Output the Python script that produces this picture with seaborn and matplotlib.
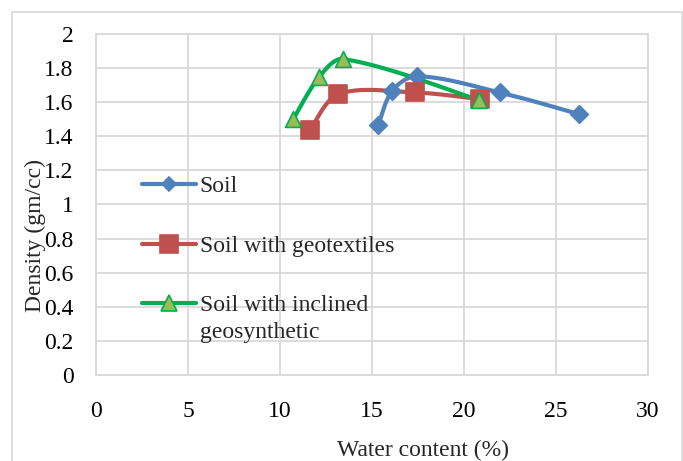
import numpy as np
import pandas as pd
import matplotlib
matplotlib.use("Agg")
import matplotlib.pyplot as plt
import seaborn as sns
from matplotlib.lines import Line2D
from matplotlib.patches import Rectangle

# ---- data ----
soil_water = [15.34, 16.10, 17.43, 21.95, 26.25]
soil_density = [1.465, 1.667, 1.752, 1.657, 1.530]

geotex_water = [11.63, 13.17, 17.34, 20.87]
geotex_density = [1.435, 1.647, 1.657, 1.618]

incl_water = [10.72, 12.14, 13.44, 20.83]
incl_density = [1.500, 1.749, 1.853, 1.612]

series_names = ["Soil", "Soil with geotextiles", "Soil with inclined\ngeosynthetic"]

x_ticks = [0, 5, 10, 15, 20, 25, 30]
x_tick_labels = ["0", "5", "10", "15", "20", "25", "30"]
y_ticks = [0, 0.2, 0.4, 0.6, 0.8, 1.0, 1.2, 1.4, 1.6, 1.8, 2.0]
y_tick_labels = ["0", "0.2", "0.4", "0.6", "0.8", "1", "1.2", "1.4", "1.6", "1.8", "2"]

x_label = "Water content (%)"
y_label = "Density (gm/cc)"

# ---- style ----
sns.set_theme(style="white")
plt.rcParams["font.family"] = ["Liberation Serif", "DejaVu Serif"]
plt.rcParams["font.size"] = 17

BLUE = "#4f81bd"
RED = "#c0504d"
GREEN = "#00b050"
OLIVE = "#9bbb59"
GRID = "#d9d9d9"

fig = plt.figure(figsize=(6.83, 4.61), dpi=100)
fig.patch.set_facecolor("white")
ax = fig.add_axes([96 / 683, 1 - 375 / 461, 552 / 683, 341 / 461])
ax.set_xlim(0, 30)
ax.set_ylim(0, 2)


def smooth(x, y, n=40):
    """Smoothed line through the points (chord-weighted Bezier, in display space)."""
    pts = ax.transData.transform(np.column_stack([np.asarray(x, float), np.asarray(y, float)]))
    P = np.vstack([pts[0], pts, pts[-1]])
    out = []
    t = np.linspace(0, 1, n)[:, None]
    for i in range(1, len(P) - 2):
        p0, p1, p2, p3 = P[i - 1], P[i], P[i + 1], P[i + 2]
        d01 = np.linalg.norm(p1 - p0)
        d12 = np.linalg.norm(p2 - p1)
        d23 = np.linalg.norm(p3 - p2)
        f1 = d12 / (d01 + d12) if d01 > 0 else 0.5
        f2 = d12 / (d12 + d23) if d23 > 0 else 0.5
        c1 = p1 + (p2 - p0) * f1 / 3.0
        c2 = p2 - (p3 - p1) * f2 / 3.0
        seg = (1 - t) ** 3 * p1 + 3 * (1 - t) ** 2 * t * c1 + 3 * (1 - t) * t ** 2 * c2 + t ** 3 * p2
        out.append(seg if i == 1 else seg[1:])
    return ax.transData.inverted().transform(np.vstack(out))


# outer chart border
fig.patches.append(Rectangle((12 / 683, -0.05), 670 / 683, 1.05 - 12 / 461,
                             transform=fig.transFigure, fill=False,
                             edgecolor=GRID, lw=1.2, zorder=0))

specs = [
    (soil_water, soil_density, BLUE, "D", BLUE, BLUE, 80),
    (geotex_water, geotex_density, RED, "s", RED, RED, 150),
    (incl_water, incl_density, GREEN, "^", OLIVE, GREEN, 130),
]

handles = []
for (xw, yd, lc, mk, fc, ec, ms), name in zip(specs, series_names):
    curve = smooth(xw, yd)
    sns.lineplot(x=curve[:, 0], y=curve[:, 1], sort=False, estimator=None,
                 color=lc, lw=3.0, ax=ax, zorder=3)
    sns.scatterplot(x=xw, y=yd, marker=mk, s=ms, color=fc, edgecolor=ec,
                    linewidth=1.2, ax=ax, zorder=4)
    handles.append(Line2D([0], [0], color=lc, lw=3.0, marker=mk,
                          markersize=np.sqrt(ms) * (0.85 if mk == "D" else 1.0),
                          markerfacecolor=fc, markeredgecolor=ec,
                          markeredgewidth=1.2, label=name))

ax.set_xlim(0, 30)
ax.set_ylim(0, 2)
ax.set_xticks(x_ticks)
ax.set_xticklabels(x_tick_labels)
ax.set_yticks(y_ticks)
ax.set_yticklabels(y_tick_labels)
ax.tick_params(axis="both", length=0, labelsize=17, colors="black")
ax.tick_params(axis="y", pad=16)
ax.tick_params(axis="x", pad=19)

ax.grid(True, color=GRID, lw=1.3)
ax.set_axisbelow(True)
for sp in ax.spines.values():
    sp.set_visible(True)
    sp.set_color(GRID)
    sp.set_linewidth(1.3)

ax.set_xlabel(x_label, fontsize=17)
ax.set_ylabel(y_label, fontsize=17, va="center")
ax.xaxis.set_label_coords(0.593, -0.19)
ax.yaxis.set_label_coords(-0.11, 0.41)

leg = ax.legend(handles=handles, loc="upper left",
                bbox_to_anchor=(0.083, 0.585), frameon=False,
                handlelength=2.3, handletextpad=0.15, labelspacing=1.62,
                borderpad=0, borderaxespad=0, fontsize=17)
leg.get_texts()[-1].set_linespacing(1.35)
# keep the handle of the two-line entry level with its first line
try:
    rows = leg._legend_handle_box.get_children()[0].get_children()
    rows[-1].align = "top"
except Exception:
    pass

fig.savefig("out.png", dpi=100, facecolor="white")
